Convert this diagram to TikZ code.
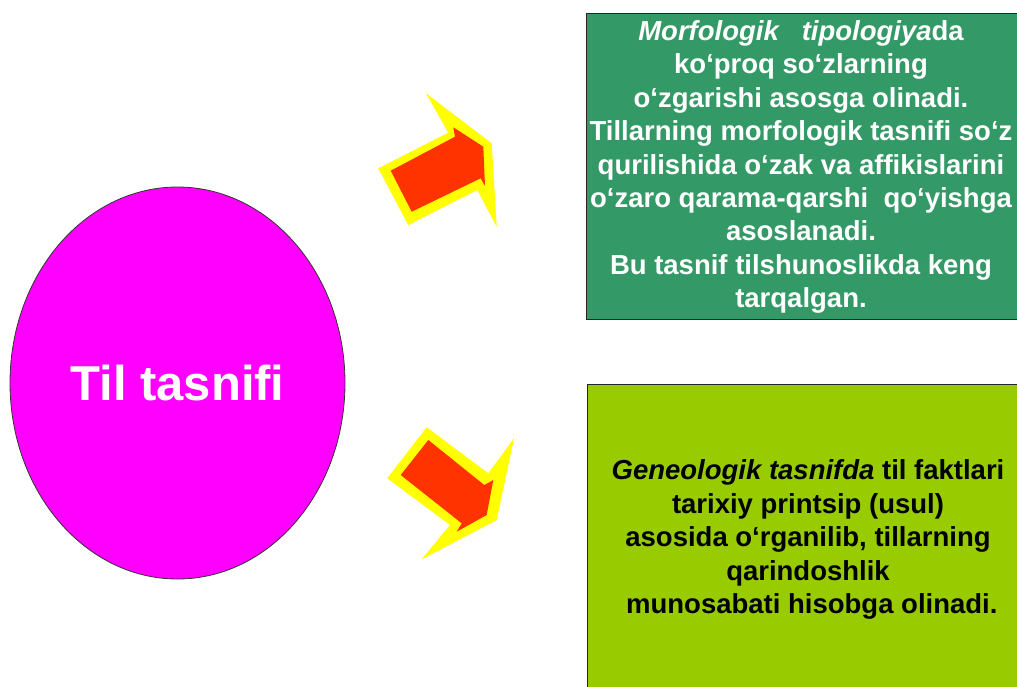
\documentclass[tikz,border=0pt]{standalone}
\usepackage{fontspec}
\setmainfont{Liberation Sans}[Ligatures={TeX,CommonOff}]
\usetikzlibrary{shapes.geometric}
\definecolor{boxgreen}{HTML}{339966}
\definecolor{boxlime}{HTML}{99CC00}
\definecolor{ovalmag}{HTML}{FF00FF}
\definecolor{arrred}{HTML}{FF3300}
\definecolor{arryel}{HTML}{FFFF00}
\tikzset{
 oval/.style={ellipse, draw=black!80, line width=0.8pt, fill=ovalmag, minimum width=335pt, minimum height=392pt, inner sep=0pt, text=white, font=\bfseries\fontsize{49}{58}\selectfont},
 panel/.style={rectangle, draw=black!85, line width=1.2pt, minimum width=440pt, inner sep=0pt, anchor=north west},
 paneltext/.style={align=center, inner sep=0pt, font=\bfseries\fontsize{27.5}{33.4}\selectfont},
 glow/.style={fill=arryel, draw=none},
 blockarrow/.style={fill=arrred, draw=none},
}
\begin{document}
\begin{tikzpicture}[x=1pt,y=-1pt]
\useasboundingbox (0,0) rectangle (1017,686);
\clip (0,0) rectangle (1017,686);
\fill[white] (0,0) rectangle (1017,686);
% central oval
\node[oval] (til) at (177.5,383) {Til tasnifi};
% panels
\node[panel, fill=boxgreen, minimum height=306pt] (morf) at (586,13) {};
\node[panel, fill=boxlime, minimum height=330pt] (gene) at (587,384) {};
\node[paneltext, text=white] (morftext) at (801,167.1) {\textit{Morfologik\ \ \ tipologiya}da\\
ko‘proq so‘zlarning\\
o‘zgarishi asosga olinadi.\\
Tillarning morfologik tasnifi so‘z\\
qurilishida o‘zak va affikislarini\\
o‘zaro qarama-qarshi\ \ qo‘yishga\\
asoslanadi.\\
Bu tasnif tilshunoslikda keng\\
tarqalgan.};
\node[paneltext, text=black] (genetext) at (808,539.6) {\textit{Geneologik tasnifda} til faktlari\\
tarixiy printsip (usul)\\
asosida o‘rganilib, tillarning\\
qarindoshlik\\
\ munosabati hisobga olinadi.};
% upper arrow
\fill[glow] (426,93.3) -- (491.7,143.3) -- (496.7,226.7) -- (477.3,190) -- (408.3,225) -- (378.3,168.3) -- (448.3,132.7) -- cycle;
\fill[blockarrow] (390.7,170.7) -- (455,136.7) -- (453.3,127.3) -- (483.3,146.7) -- (485,186) -- (480.7,178.3) -- (411.7,211.7) -- cycle;
% lower arrow
\fill[glow] (426.7,427.3) -- (488.3,473.3) -- (514,438.3) -- (496.7,520) -- (421.7,559.3) -- (450,525) -- (387.3,478.3) -- cycle;
\fill[blockarrow] (428.3,440) -- (484.3,485) -- (493.3,480) -- (486.7,515) -- (456.7,531.7) -- (461.7,523.3) -- (400.7,475) -- cycle;
\end{tikzpicture}
\end{document}
